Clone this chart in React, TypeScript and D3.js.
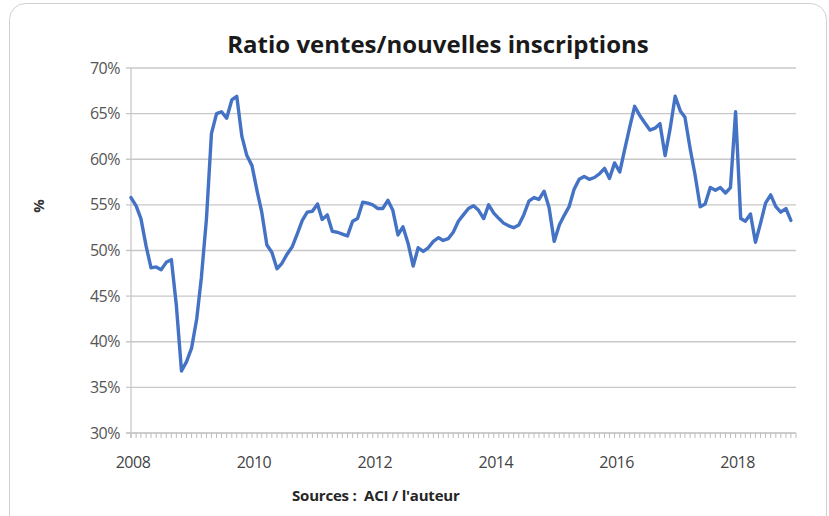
import React from "react";
import * as d3 from "d3";

const years = [2008, 2009, 2010, 2011, 2012, 2013, 2014, 2015, 2016, 2017, 2018];
const v2008 = [55.8, 54.9, 53.5, 50.5, 48.1, 48.2, 47.9, 48.7, 49.0, 44.0, 36.8, 37.8];
const v2009 = [39.3, 42.5, 47.0, 53.5, 62.8, 65.0, 65.2, 64.5, 66.5, 66.9, 62.5, 60.4];
const v2010 = [59.3, 56.5, 54.2, 50.6, 49.8, 48.0, 48.6, 49.6, 50.4, 51.8, 53.3, 54.2];
const v2011 = [54.3, 55.1, 53.4, 53.9, 52.1, 52.0, 51.8, 51.6, 53.2, 53.5, 55.3, 55.2];
const v2012 = [55.0, 54.6, 54.6, 55.5, 54.4, 51.7, 52.6, 50.8, 48.3, 50.3, 49.9, 50.3];
const v2013 = [51.0, 51.4, 51.1, 51.3, 52.0, 53.2, 53.9, 54.6, 54.9, 54.4, 53.5, 55.0];
const v2014 = [54.1, 53.5, 53.0, 52.7, 52.5, 52.8, 53.9, 55.4, 55.8, 55.6, 56.5, 54.7];
const v2015 = [51.0, 52.8, 53.8, 54.8, 56.7, 57.8, 58.1, 57.8, 58.0, 58.4, 59.0, 57.9];
const v2016 = [59.6, 58.6, 61.0, 63.5, 65.8, 64.8, 64.0, 63.2, 63.4, 63.9, 60.4, 63.3];
const v2017 = [66.9, 65.3, 64.6, 61.2, 58.3, 54.8, 55.1, 56.9, 56.6, 56.9, 56.3, 56.9];
const v2018 = [65.2, 53.5, 53.2, 54.0, 50.9, 53.0, 55.2, 56.1, 54.8, 54.2, 54.6, 53.3];

const yearValues = [v2008, v2009, v2010, v2011, v2012, v2013, v2014, v2015, v2016, v2017, v2018];
const yTicks = [30, 35, 40, 45, 50, 55, 60, 65, 70];
const xLabelYears = [2008, 2010, 2012, 2014, 2016, 2018];

const titleText = "Ratio ventes/nouvelles inscriptions";
const yAxisTitle = "%";
const sourceText = "Sources :  ACI / l'auteur";

type Pt = { date: Date; value: number };
const data: Pt[] = [];
years.forEach((yr, yi) => {
  yearValues[yi].forEach((v, m) => data.push({ date: new Date(yr, m, 1), value: v }));
});

export default function App() {
  const W = 829;
  const H = 516;
  const left = 131;
  const right = 796;
  const top = 68;
  const bottom = 433;

  const x = d3
    .scaleTime()
    .domain([new Date(2008, 0, 1), new Date(2019, 0, 1)])
    .range([left, right]);
  const y = d3.scaleLinear().domain([30, 70]).range([bottom, top]);

  const line = d3
    .line<Pt>()
    .x((d) => x(d.date))
    .y((d) => y(d.value));

  const months = d3.timeMonth.range(new Date(2008, 0, 1), new Date(2019, 1, 1));
  const font = "'Open Sans', sans-serif";

  return (
    <svg
      width={W}
      height={H}
      style={{ position: "absolute", left: 0, top: 0, background: "#fff" }}
      fontFamily={font}
    >
      <rect x={9.5} y={3.5} width={817} height={530} rx={16} fill="#fff" stroke="#d0d0d0" />
      <text
        x={438}
        y={53}
        textAnchor="middle"
        fontSize={24}
        fontWeight="bold"
        fill="#1a1a1a"
        letterSpacing={0}
      >
        {titleText}
      </text>
      {yTicks.map((t) => (
        <g key={t}>
          <line
            x1={left - 5}
            x2={right}
            y1={y(t)}
            y2={y(t)}
            stroke={t === 30 ? "#bdbdbd" : "#c8c8c8"}
            strokeWidth={1.3}
          />
          <text
            x={120}
            y={y(t) + 5.5}
            textAnchor="end"
            fontSize={16}
            fill="#555"
            letterSpacing={-0.5}
          >
            {t}%
          </text>
        </g>
      ))}
      <line x1={left} x2={left} y1={top} y2={bottom + 5} stroke="#c8c8c8" strokeWidth={1.3} />
      {months.map((m, i) => (
        <line
          key={i}
          x1={x(m)}
          x2={x(m)}
          y1={bottom}
          y2={bottom + 5}
          stroke="#bdbdbd"
          strokeWidth={1}
        />
      ))}
      {xLabelYears.map((yr) => (
        <text
          key={yr}
          x={x(new Date(yr, 0, 1)) + 2}
          y={468}
          textAnchor="middle"
          fontSize={16}
          fill="#444"
          letterSpacing={-0.5}
        >
          {yr}
        </text>
      ))}
      <text
        transform={`translate(44,206) rotate(-90)`}
        textAnchor="middle"
        fontSize={15}
        fontWeight="bold"
        fill="#333"
      >
        {yAxisTitle}
      </text>
      <path
        d={line(data) || ""}
        fill="none"
        stroke="#4472c4"
        strokeWidth={3.4}
        strokeLinejoin="round"
        strokeLinecap="round"
      />
      <text
        x={292}
        y={501}
        fontSize={15}
        fontWeight="bold"
        fill="#262626"
        letterSpacing={-0.2}
        style={{ whiteSpace: "pre" }}
      >
        {sourceText}
      </text>
    </svg>
  );
}
